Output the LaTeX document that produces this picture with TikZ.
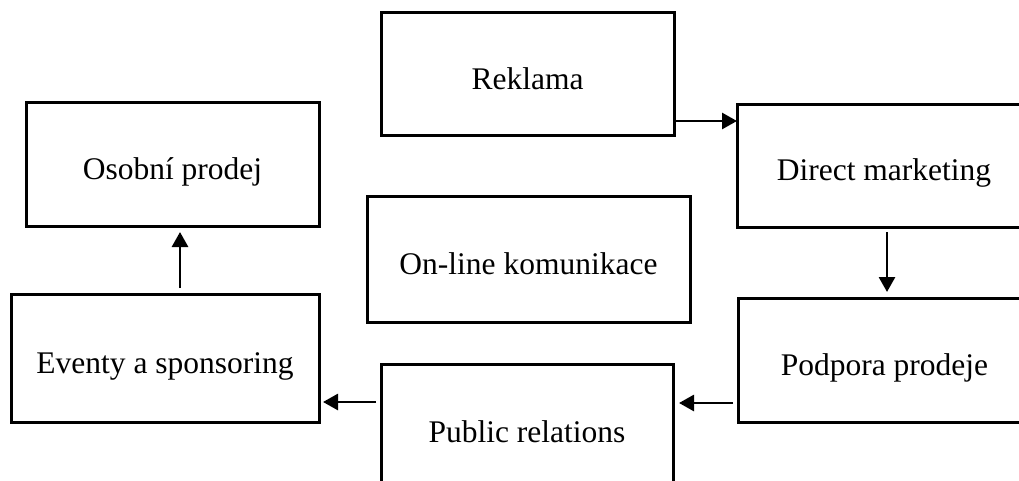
\documentclass[tikz,border=0pt]{standalone}
\usepackage{fontspec}
\setmainfont{Liberation Serif}
\usetikzlibrary{arrows.meta}
\tikzset{
  box/.style={draw, line width=3pt, rectangle, inner sep=0pt, outer sep=0pt,
    font=\fontsize{31.5}{36}\selectfont, text height=38pt, text depth=8pt},
  arr/.style={line width=2.8pt, -{Triangle[length=15pt,width=16pt]}},
}
\begin{document}
\begin{tikzpicture}[x=1pt,y=-1pt]
\path[use as bounding box] (0,0) rectangle (1019,481);
\clip (0,0) rectangle (1019,481);
\node[box, minimum width=293pt, minimum height=123pt] (rek) at (527.5,74.5) {Reklama};
\node[box, minimum width=294pt, minimum height=122pt] (dm) at (884,166) {Direct marketing};
\node[box, minimum width=293pt, minimum height=123pt] (osp) at (172.5,164.5) {Osobní prodej};
\node[box, minimum width=323pt, minimum height=126pt] (onl) at (528.5,259) {On-line komunikace};
\node[box, minimum width=308pt, minimum height=128pt] (evs) at (165,358) {Eventy a sponsoring};
\node[box, minimum width=293pt, minimum height=124pt] (pod) at (884.5,360) {Podpora prodeje};
\node[box, minimum width=292pt, minimum height=126pt] (pr) at (527,427) {Public relations};
\draw[arr, shorten <=2pt] (rek.east |- 0,121) -- (dm.west |- 0,121);
\draw[arr, shorten <=5pt, shorten >=6pt] (dm.south -| 887,0) -- (pod.north -| 887,0);
\draw[arr, shorten <=5pt, shorten >=6pt] (pod.west |- 0,403) -- (pr.east |- 0,403);
\draw[arr, shorten <=5pt, shorten >=4pt] (pr.west |- 0,402) -- (evs.east |- 0,402);
\draw[arr, shorten <=6pt, shorten >=6pt] (evs.north -| 180,0) -- (osp.south -| 180,0);
\end{tikzpicture}
\end{document}
